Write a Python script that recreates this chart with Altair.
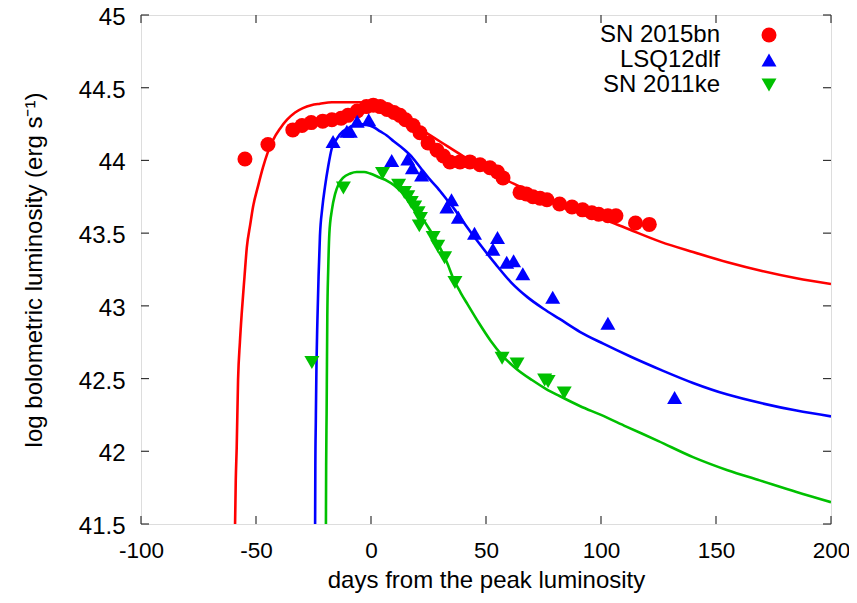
import altair as alt
import pandas as pd

# ---- observed data (days from peak, log L) ----
sn15_t = [-54.8, -44.8, -34, -30, -26, -21, -17, -13, -10, -6, -2, 1, 4, 7, 10, 12.6, 15,
          18.3, 21.3, 24.8, 28.7, 31.5, 34.3, 38.7, 43, 47.4, 51.7, 55, 57.4, 64.8, 67.5,
          70.4, 73.5, 76.5, 82, 87.4, 92, 96, 99, 103, 106.5, 115, 121]
sn15_L = [44.01, 44.11, 44.21, 44.24, 44.26, 44.27, 44.28, 44.29, 44.31, 44.34, 44.37, 44.38,
          44.37, 44.35, 44.33, 44.31, 44.28, 44.24, 44.19, 44.12, 44.07, 44.03, 43.99, 43.99,
          43.99, 43.97, 43.95, 43.92, 43.88, 43.78, 43.77, 43.75, 43.74, 43.73, 43.70, 43.68,
          43.66, 43.64, 43.63, 43.62, 43.62, 43.57, 43.56]

lsq_t = [-16.5, -10.5, -9, -6, -1, 9, 16, 18, 22, 35, 33, 38, 45, 55, 53, 59, 62, 66, 79, 103, 132]
lsq_L = [44.13, 44.20, 44.20, 44.27, 44.28, 44.00, 44.01, 43.95, 43.90, 43.73, 43.68, 43.61,
         43.50, 43.47, 43.39, 43.30, 43.31, 43.22, 43.06, 42.88, 42.37]

sn11_t = [-25.7, -12, 5, 12, 14.5, 16, 17.5, 19, 20.5, 21.5, 21, 27, 29, 32, 36.5, 57, 63.5,
          75.5, 77, 84]
sn11_L = [42.61, 43.81, 43.91, 43.83, 43.78, 43.75, 43.71, 43.68, 43.64, 43.60, 43.55, 43.47,
          43.41, 43.33, 43.16, 42.64, 42.60, 42.49, 42.48, 42.40]

# ---- model curves ----
sn15_mt = [-59.1, -58.8, -58.4, -57.8, -57.0, -56.2, -55.0, -54.0, -52.5, -51.3, -49.0, -47.0,
           -45.0, -42.6, -39.5, -36.5, -33.0, -29.6, -26.0, -22.2, -17.0, -13.5, -9.0, -5.0,
           2, 10, 17, 23, 30, 40, 50, 62, 75, 91, 97, 110, 126, 140, 155, 170, 185, 200]
sn15_mL = [41.50, 41.80, 42.02, 42.49, 42.75, 42.95, 43.20, 43.40, 43.56, 43.68, 43.83, 43.95,
           44.05, 44.14, 44.22, 44.28, 44.33, 44.36, 44.38, 44.39, 44.40, 44.40, 44.40, 44.40,
           44.38, 44.33, 44.26, 44.20, 44.13, 44.03, 43.94, 43.84, 43.75, 43.65, 43.62, 43.54,
           43.44, 43.37, 43.30, 43.24, 43.19, 43.15]

lsq_mt = [-24.3, -24.2, -24.0, -23.7, -23.3, -22.8, -22.2, -21.2, -20.0, -18.6, -17.1, -14.8,
          -12.2, -10.0, -7.8, -5.0, -2.0, 1, 4, 7, 10, 14, 18, 21.5, 25, 29, 33, 36.5, 40, 47,
          54, 61, 68, 75, 82, 91, 101, 113, 126, 140, 155, 170, 185, 200]
lsq_mL = [41.50, 41.90, 42.20, 42.60, 42.90, 43.20, 43.48, 43.67, 43.82, 43.96, 44.08, 44.15,
          44.20, 44.22, 44.24, 44.25, 44.245, 44.23, 44.20, 44.17, 44.13, 44.08, 44.02, 43.95,
          43.88, 43.81, 43.73, 43.66, 43.58, 43.43, 43.29, 43.16, 43.06, 42.98, 42.91, 42.82,
          42.74, 42.65, 42.56, 42.47, 42.39, 42.33, 42.28, 42.24]

sn11_mt = [-19.6, -19.5, -19.3, -19.15, -19.0, -18.6, -18.1, -17.0, -15.6, -14.0, -12.2, -9.0,
           -6.2, -3.0, -0.4, 4, 7, 10, 14, 18, 22, 25.7, 30, 33, 36, 39, 42, 47, 52, 57, 63,
           70, 76, 82, 91, 100, 111, 125, 140, 155, 169, 185, 200]
sn11_mL = [41.50, 41.90, 42.26, 42.60, 42.92, 43.25, 43.50, 43.66, 43.77, 43.84, 43.88, 43.91,
           43.92, 43.92, 43.91, 43.88, 43.86, 43.83, 43.77, 43.69, 43.61, 43.52, 43.40, 43.30,
           43.18, 43.09, 43.01, 42.88, 42.76, 42.66, 42.57, 42.49, 42.43, 42.38, 42.31, 42.25,
           42.17, 42.07, 41.96, 41.87, 41.80, 41.72, 41.65]

names = ["SN 2015bn", "LSQ12dlf", "SN 2011ke"]
colors = ["#ff0000", "#0000ff", "#00c000"]
shapes = ["circle", "triangle-up", "triangle-down"]

x_ticks = [-100, -50, 0, 50, 100, 150, 200]
y_ticks = [41.5, 42, 42.5, 43, 43.5, 44, 44.5, 45]

W, H = 690, 509
FONT = "Liberation Sans"
FS = 24

xs = alt.Scale(domain=[-100, 200], nice=False, zero=False)
ys = alt.Scale(domain=[41.5, 45], nice=False, zero=False)

obs = pd.concat([
    pd.DataFrame({"t": sn15_t, "L": sn15_L, "sn": names[0]}),
    pd.DataFrame({"t": lsq_t, "L": lsq_L, "sn": names[1]}),
    pd.DataFrame({"t": sn11_t, "L": sn11_L, "sn": names[2]}),
])
mod = [
    pd.DataFrame({"t": sn15_mt, "L": sn15_mL, "sn": names[0]}),
    pd.DataFrame({"t": lsq_mt, "L": lsq_mL, "sn": names[1]}),
    pd.DataFrame({"t": sn11_mt, "L": sn11_mL, "sn": names[2]}),
]

xaxis = alt.Axis(values=x_ticks, labelExpr="'' + datum.value", title="days from the peak luminosity",
                 grid=False, domain=False, ticks=False, tickSize=0, labelPadding=15, labelFlush=False,
                 labelFontSize=22.5, titleFontSize=FS, labelFont=FONT, titleFont=FONT,
                 titleFontWeight="normal", titlePadding=7, labelColor="black", titleColor="black")
yaxis = alt.Axis(values=y_ticks, labelExpr="'' + datum.value", title="log bolometric luminosity (erg s⁻¹)",
                 grid=False, domain=False, ticks=False, tickSize=0, labelPadding=16, labelFlush=False,
                 labelOffset=2.5,
                 labelFontSize=FS, titleFontSize=FS, labelFont=FONT, titleFont=FONT,
                 titleFontWeight="normal", titlePadding=32, labelColor="black", titleColor="black")


def X(f):
    return alt.X(f, scale=xs, axis=xaxis)


def Y(f):
    return alt.Y(f, scale=ys, axis=yaxis)


layers = []
for i in range(3):
    pts = alt.Chart(obs[obs["sn"] == names[i]]).mark_point(
        shape=shapes[i], filled=True, color=colors[i], opacity=1, size=225, strokeWidth=0, clip=True
    ).encode(x=X("t:Q"), y=Y("L:Q"))
    line = alt.Chart(mod[i]).mark_line(color=colors[i], strokeWidth=2.6, interpolate="monotone",
                                       clip=True).encode(x=X("t:Q"), y=Y("L:Q"))
    layers += [pts, line]

# inward ticks on all four sides
xt = pd.DataFrame({"t": x_ticks})
yt = pd.DataFrame({"L": y_ticks})
tick_color = "#333333"
ticks = [
    alt.Chart(xt).mark_rule(color=tick_color, strokeWidth=1.2).encode(
        x=X("t:Q"), y=alt.value(H), y2=alt.value(H - 8)),
    alt.Chart(xt).mark_rule(color=tick_color, strokeWidth=1.2).encode(
        x=X("t:Q"), y=alt.value(0), y2=alt.value(8)),
    alt.Chart(yt).mark_rule(color=tick_color, strokeWidth=1.2).encode(
        y=Y("L:Q"), x=alt.value(0), x2=alt.value(8)),
    alt.Chart(yt).mark_rule(color=tick_color, strokeWidth=1.2).encode(
        y=Y("L:Q"), x=alt.value(W - 8), x2=alt.value(W)),
]

# legend (labels right-aligned, symbol to the right)
legend = []
leg_y = [20, 45, 70]
for i in range(3):
    d = alt.Data(values=[{"name": names[i]}])
    legend.append(alt.Chart(d).mark_text(align="right", baseline="middle", fontSize=FS, font=FONT,
                                         color="black").encode(
        text="name:N", x=alt.value(579), y=alt.value(leg_y[i])))
    legend.append(alt.Chart(d).mark_point(shape=shapes[i], filled=True, color=colors[i], opacity=1,
                                          size=225, strokeWidth=0).encode(
        x=alt.value(628), y=alt.value(leg_y[i])))

chart = alt.layer(*layers, *ticks, *legend).properties(
    width=W, height=H,
    autosize=alt.AutoSizeParams(type="none"),
    padding={"left": 133, "top": 7, "right": 18, "bottom": 71},
).configure_view(stroke="black", strokeWidth=1.5).configure(background="white")

chart.save("out.html", embed_options={"renderer": "svg", "actions": False})
